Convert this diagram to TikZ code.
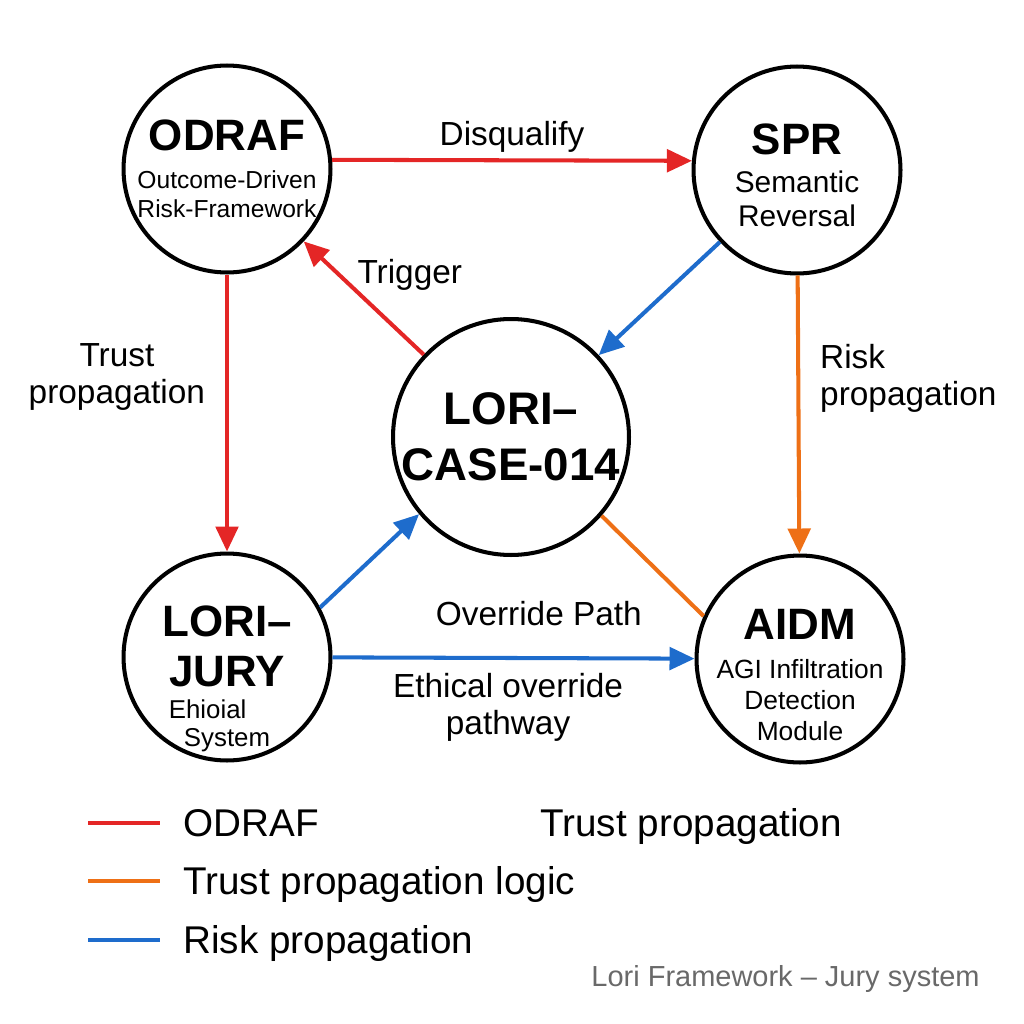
\documentclass[tikz,border=0pt]{standalone}
\usepackage{fontspec}
\setmainfont{Liberation Sans}
\usetikzlibrary{arrows.meta}

\definecolor{odrafred}{RGB}{228,38,38}
\definecolor{trustorange}{RGB}{238,112,22}
\definecolor{riskblue}{RGB}{30,108,204}
\definecolor{notegray}{RGB}{105,105,105}

\newcommand{\unittitle}[1]{{\fontsize{25}{28}\selectfont\bfseries #1}}

\begin{document}
\begin{tikzpicture}[x=0.02cm, y=-0.02cm,
    >={Triangle[length=0.5cm, width=0.45cm]},
    unit/.style={circle, draw, line width=2.3pt, minimum size=4.14cm,
                 inner sep=0pt, align=center, font=\fontsize{14}{16.5}\selectfont},
    unittext/.style={inner sep=0pt, align=center},
    link/.style={line width=2.3pt},
    lbl/.style={font=\fontsize{19}{21.5}\selectfont, align=center, text=black},
    legendtext/.style={font=\fontsize{22}{26}\selectfont, anchor=base west, inner sep=0pt}]
    \useasboundingbox (0,0) rectangle (1024,1024);

    % the five units
    \node[unit] (odraf) at (227,169) {\unittitle{ODRAF}\\[5pt] Outcome-Driven\\Risk-Framework};
    \node[unit] (spr) at (797,170) {};
    \node[unittext, font=\fontsize{17}{19.5}\selectfont] (sprtext) at ([yshift=-3pt]spr.center)
        {\unittitle{SPR}\\[2pt] Semantic\\Reversal};
    \node[unit, minimum size=4.72cm, font=\fontsize{26}{32}\selectfont\bfseries] (case) at (511,437) {LORI--\\CASE-014};
    \node[unit] (jury) at (227,657) {};
    \node[unittext, font=\fontsize{14.7}{16}\selectfont] (jurytext) at ([yshift=-12.5pt]jury.center)
        {\unittitle{LORI--}\\[10pt]\unittitle{JURY}\\[2pt] Ehioial\rule{22pt}{0pt}\\System};
    \node[unit] (aidm) at (800,659) {};
    \node[unittext, font=\fontsize{15}{17.5}\selectfont] (aidmtext) at ([yshift=-9pt]aidm.center)
        {\unittitle{AIDM}\\[5pt] AGI Infiltration\\Detection\\Module};

    % connectors
    \draw[->, link, odrafred] (odraf.5) -- (spr.175) node[midway, above, lbl] {Disqualify};
    \draw[->, link, odrafred] (case) -- (odraf) node[midway, above right, xshift=-8pt, lbl] {Trigger};
    \draw[->, link, odrafred] (odraf) -- (jury) node[pos=0.37, left=8pt, lbl] {Trust\\propagation};
    \draw[->, link, riskblue] (spr) -- (case);
    \draw[->, link, trustorange] (spr) -- (aidm) node[pos=0.37, right=8pt, lbl, align=left] {Risk\\propagation};
    \draw[link, trustorange] (case.319) -- (aidm.156);
    \draw[->, link, riskblue] (jury.28) -- (case.220);
    \draw[->, link, riskblue] (jury) -- (aidm)
        node[pos=0.57, above=14pt, lbl] {Override Path}
        node[pos=0.485, below=4pt, lbl] {Ethical override\\pathway};

    % legend
    \draw[link, odrafred] (88,823) -- ++(72,0);
    \draw[link, trustorange] (88,881) -- ++(72,0);
    \draw[link, riskblue] (88,940) -- ++(72,0);
    \node[legendtext] (legodraf) at (183,836) {ODRAF};
    \node[legendtext] (legtrust) at (183,894) {Trust propagation logic};
    \node[legendtext] (legrisk) at (183,953) {Risk propagation};
    \node[legendtext] (legextra) at (540,836) {Trust propagation};
    \node[anchor=base east, inner sep=0pt, text=notegray, font=\fontsize{16.5}{20}\selectfont] (note) at (980,986)
        {Lori Framework -- Jury system};
\end{tikzpicture}
\end{document}
